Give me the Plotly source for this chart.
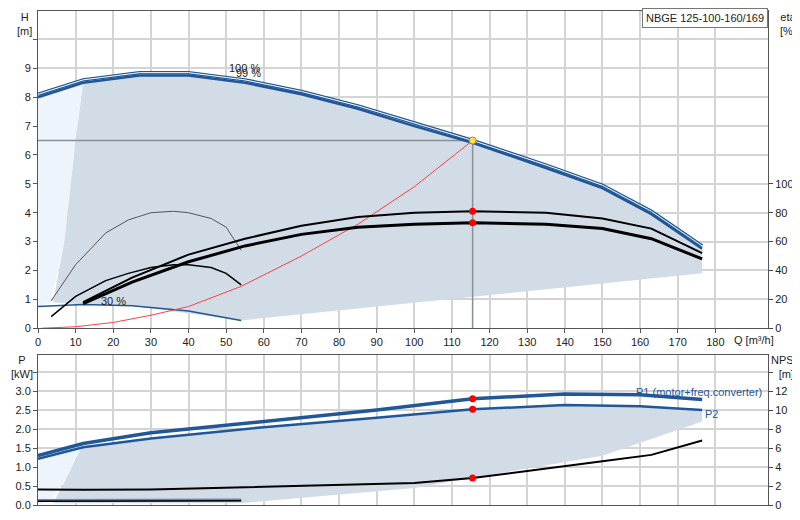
import plotly.graph_objects as go

# pump curve data (Q in m3/h)
q_head = [0, 12, 27, 40, 55, 70, 85, 100, 115.5, 135, 150, 163, 176.5]
h_100 = [8.1, 8.6, 8.85, 8.85, 8.6, 8.2, 7.7, 7.1, 6.5, 5.65, 4.95, 4.05, 2.85]
h_99 = [8.0, 8.5, 8.75, 8.75, 8.5, 8.1, 7.6, 7.0, 6.42, 5.55, 4.85, 3.95, 2.75]
q_min = [0, 12, 25, 40, 54]
h_min = [0.75, 0.82, 0.78, 0.6, 0.27]

q_eta = [12, 25, 40, 55, 70, 85, 100, 115.5, 135, 150, 163, 176.5]
eta_1 = [18, 35, 51, 62, 71, 77, 80, 81, 80, 76, 69, 52]
eta_2 = [17, 32, 46, 57, 65, 70, 72, 73, 72, 69, 62, 48]

q_part = [3.5, 10, 18, 24, 30, 36, 40, 46, 50, 54]
h_part_a = [0.95, 2.2, 3.3, 3.75, 4.0, 4.05, 4.0, 3.8, 3.5, 2.7]
h_part_b = [0.4, 1.1, 1.65, 1.9, 2.1, 2.2, 2.2, 2.1, 1.9, 1.5]

q_sys = [1, 10, 20, 30, 40, 54, 70, 85, 100, 115.5]
h_sys = [0, 0.05, 0.2, 0.45, 0.75, 1.45, 2.5, 3.6, 4.9, 6.5]

q_duty, h_duty = 115.5, 6.5

q_pow = [0, 12, 30, 60, 90, 115.5, 140, 160, 176.5]
p1 = [1.3, 1.62, 1.9, 2.2, 2.5, 2.8, 2.92, 2.9, 2.78]
p2 = [1.22, 1.52, 1.75, 2.05, 2.3, 2.52, 2.63, 2.6, 2.5]
q_npsh = [0, 12, 30, 60, 90, 100, 115.5, 135, 150, 163, 176.5]
npsh = [1.64, 1.6, 1.64, 1.92, 2.2, 2.32, 2.84, 3.8, 4.6, 5.28, 6.8]

DARK = "#d1dce7"
LIGHT = "#eef4fb"
BLUE = "#1f5799"
L, R = 30, 40
PW = 800 - L - R

fig = go.Figure()

# shaded areas, top
fig.add_trace(go.Scatter(x=[0, 12, 10, 7, 3.5, 0, 0], y=[8.1, 8.6, 6.5, 3, 0.9, 0.75, 8.1],
                         fill="toself", fillcolor=LIGHT, line=dict(width=0), mode="lines",
                         xaxis="x", yaxis="y"))
fig.add_trace(go.Scatter(x=q_head + [176.5, 54, 25, 12, 4, 7, 10, 12],
                         y=h_99 + [1.9, 0.27, 0.78, 0.82, 0.9, 3, 6.5, 8.5],
                         fill="toself", fillcolor=DARK, line=dict(width=0), mode="lines",
                         xaxis="x", yaxis="y"))

# duty point lines
fig.add_trace(go.Scatter(x=[0, q_duty], y=[h_duty, h_duty], mode="lines",
                         line=dict(color="#8a8f96", width=1.5), xaxis="x", yaxis="y"))
fig.add_trace(go.Scatter(x=[q_duty, q_duty], y=[0, h_duty], mode="lines",
                         line=dict(color="#8a8f96", width=1.5), xaxis="x", yaxis="y"))

# head curves
fig.add_trace(go.Scatter(x=q_head, y=h_100, mode="lines", line=dict(color=BLUE, width=3.5),
                         xaxis="x", yaxis="y"))
fig.add_trace(go.Scatter(x=q_head, y=h_100, mode="lines", line=dict(color="white", width=1),
                         xaxis="x", yaxis="y"))
fig.add_trace(go.Scatter(x=q_head, y=h_99, mode="lines", line=dict(color=BLUE, width=2.5),
                         xaxis="x", yaxis="y"))
fig.add_trace(go.Scatter(x=q_min, y=h_min, mode="lines", line=dict(color=BLUE, width=1.5),
                         xaxis="x", yaxis="y"))

# part load curves
fig.add_trace(go.Scatter(x=q_part, y=h_part_a, mode="lines", line=dict(color="#555", width=1),
                         xaxis="x", yaxis="y"))
fig.add_trace(go.Scatter(x=q_part, y=h_part_b, mode="lines", line=dict(color="black", width=1.5),
                         xaxis="x", yaxis="y"))

# system curve
fig.add_trace(go.Scatter(x=q_sys, y=h_sys, mode="lines", line=dict(color="#ff4040", width=1),
                         xaxis="x", yaxis="y"))

# efficiency
fig.add_trace(go.Scatter(x=q_eta, y=eta_1, mode="lines", line=dict(color="black", width=2),
                         xaxis="x", yaxis="y2"))
fig.add_trace(go.Scatter(x=q_eta, y=eta_2, mode="lines", line=dict(color="black", width=3),
                         xaxis="x", yaxis="y2"))
fig.add_trace(go.Scatter(x=[q_duty, q_duty], y=[eta_1[7], eta_2[7]], mode="markers",
                         marker=dict(color="red", size=7), xaxis="x", yaxis="y2"))
fig.add_trace(go.Scatter(x=[q_duty], y=[h_duty], mode="markers",
                         marker=dict(color="#ffe14d", size=7, line=dict(color="#c08000", width=1)),
                         xaxis="x", yaxis="y"))

# shaded areas, bottom
fig.add_trace(go.Scatter(x=[0, 12, 8, 4, 1, 0, 0], y=[1.3, 1.62, 0.8, 0.2, 0.03, 0.03, 1.3],
                         fill="toself", fillcolor=LIGHT, line=dict(width=0), mode="lines",
                         xaxis="x2", yaxis="y3"))
fig.add_trace(go.Scatter(x=q_pow[1:] + [176.5, 150, 100, 54, 4, 8, 12],
                         y=p2[1:] + [2.2, 1.3, 0.45, 0.05, 0.05, 0.8, 1.6],
                         fill="toself", fillcolor=DARK, line=dict(width=0), mode="lines",
                         xaxis="x2", yaxis="y3"))
fig.add_trace(go.Scatter(x=q_pow, y=p1, mode="lines", line=dict(color=BLUE, width=3.5),
                         xaxis="x2", yaxis="y3"))
fig.add_trace(go.Scatter(x=q_pow, y=p2, mode="lines", line=dict(color=BLUE, width=2.5),
                         xaxis="x2", yaxis="y3"))
fig.add_trace(go.Scatter(x=[0, 54], y=[0.12, 0.13], mode="lines", line=dict(color="#6d86a8", width=3),
                         xaxis="x2", yaxis="y3"))
fig.add_trace(go.Scatter(x=[0, 54], y=[0.1, 0.11], mode="lines", line=dict(color="black", width=1.5),
                         xaxis="x2", yaxis="y3"))
fig.add_trace(go.Scatter(x=q_npsh, y=npsh, mode="lines", line=dict(color="black", width=2),
                         xaxis="x2", yaxis="y4"))
fig.add_trace(go.Scatter(x=[q_duty, q_duty], y=[p1[5], p2[5]], mode="markers",
                         marker=dict(color="red", size=7), xaxis="x2", yaxis="y3"))
fig.add_trace(go.Scatter(x=[q_duty], y=[npsh[6]], mode="markers",
                         marker=dict(color="red", size=7), xaxis="x2", yaxis="y4"))

grid = dict(showgrid=True, gridcolor="#d4d4d4", gridwidth=1.5, zeroline=False,
            showline=True, linecolor="#555", ticks="outside", ticklen=4, tickcolor="#555",
            tickfont=dict(size=11, color="#222"))

fig.update_layout(
    width=800, height=520, showlegend=False,
    margin=dict(l=L, r=R, t=0, b=0),
    plot_bgcolor="white", paper_bgcolor="white",
    font=dict(family="Liberation Sans", size=11, color="#222"),
    xaxis=dict(grid, range=[0, 194], domain=[0, 1], tickvals=list(range(0, 190, 10)),
               anchor="y", mirror=True),
    yaxis=dict(grid, range=[0, 11], domain=[0.377, 0.995], tickvals=list(range(0, 11)),
               ticktext=[str(v) for v in range(0, 10)] + [""], mirror=True),
    yaxis2=dict(range=[0, 220], overlaying="y", side="right", anchor="x", showgrid=False,
                tickvals=[0, 20, 40, 60, 80, 100], ticks="outside", ticklen=4,
                showline=True, linecolor="#555", tickfont=dict(size=11, color="#222")),
    xaxis2=dict(grid, range=[0, 194], domain=[0, 1], tickvals=list(range(0, 190, 10)),
                showticklabels=False, ticks="", anchor="y3", mirror=True),
    yaxis3=dict(grid, range=[0, 3.95], domain=[0.033, 0.325],
                tickvals=[0, 0.5, 1, 1.5, 2, 2.5, 3, 3.5],
                ticktext=["0.0", "0.5", "1.0", "1.5", "2.0", "2.5", "3.0", ""], mirror=True),
    yaxis4=dict(range=[0, 15.8], overlaying="y3", side="right", anchor="x2", showgrid=False,
                tickvals=[0, 2, 4, 6, 8, 10, 12, 14],
                ticktext=["0", "2", "4", "6", "8", "10", "12", ""], ticks="outside", ticklen=4,
                showline=True, linecolor="#555", tickfont=dict(size=11, color="#222")),
)

ann = [
    ("H<br>[m]", 16, 519),
    ("eta<br>[%]", 780, 519),
    ("P<br>[kW]", 14, 172),
    ("NPSH<br>[m]", 778, 172),
]
for text, px, py in ann:
    fig.add_annotation(text=text, xref="paper", yref="paper", x=(px - L) / PW,
                       y=py / 520, xanchor="center", yanchor="top", showarrow=False,
                       font=dict(size=11, color="#222"), align="center")
fig.add_annotation(text="Q [m³/h]", xref="x", yref="paper", x=184.5, y=(520 - 336) / 520,
                   xanchor="left", yanchor="middle", showarrow=False, font=dict(size=11))
fig.add_annotation(text="NBGE 125-100-160/169", xref="paper", yref="paper", x=1, y=1,
                   xanchor="right", yanchor="top", showarrow=False, font=dict(size=11),
                   bordercolor="#777", borderwidth=1, bgcolor="white", borderpad=3)
fig.add_annotation(text="100 %", x=55, y=9.0, xref="x", yref="y", showarrow=False, font=dict(size=11))
fig.add_annotation(text="99 %", x=56, y=8.85, xref="x", yref="y", showarrow=False, font=dict(size=11))
fig.add_annotation(text="30 %", x=20, y=0.95, xref="x", yref="y", showarrow=False, font=dict(size=11))
fig.add_annotation(text="P1 (motor+freq.converter)", x=193, y=2.98, xref="x2", yref="y3",
                   xanchor="right", showarrow=False, font=dict(size=11, color=BLUE))
fig.add_annotation(text="P2", x=179, y=2.4, xref="x2", yref="y3",
                   xanchor="center", showarrow=False, font=dict(size=11, color=BLUE))

fig.write_html("out.html")
